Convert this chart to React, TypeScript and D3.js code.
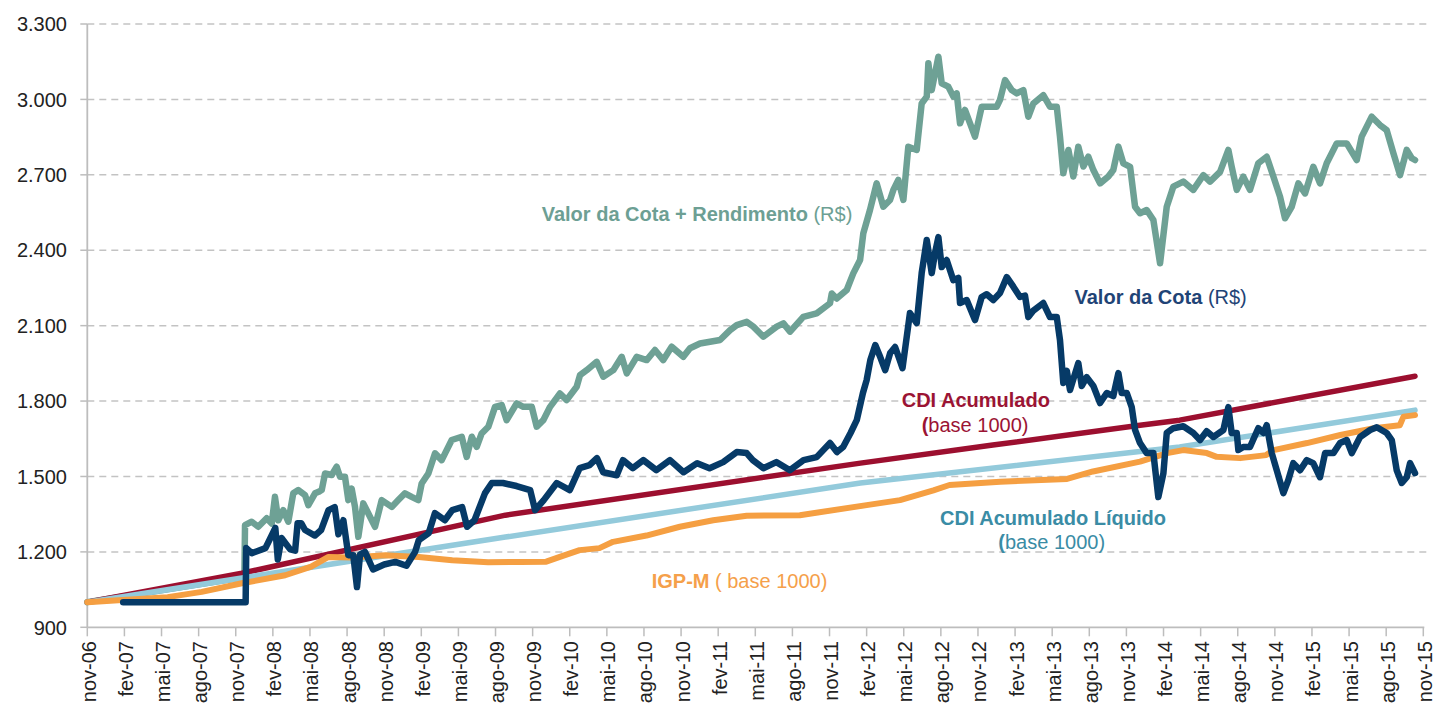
import React from "react";
import * as d3 from "d3";

// x positions are months elapsed since nov-06
const tickLabels = [
  "nov-06", "fev-07", "mai-07", "ago-07", "nov-07", "fev-08", "mai-08", "ago-08", "nov-08",
  "fev-09", "mai-09", "ago-09", "nov-09", "fev-10", "mai-10", "ago-10", "nov-10",
  "fev-11", "mai-11", "ago-11", "nov-11", "fev-12", "mai-12", "ago-12", "nov-12",
  "fev-13", "mai-13", "ago-13", "nov-13", "fev-14", "mai-14", "ago-14", "nov-14",
  "fev-15", "mai-15", "ago-15", "nov-15",
];
const yTicks = [900, 1200, 1500, 1800, 2100, 2400, 2700, 3000, 3300];

const cotaRendimento: [number, number][] = [
  [0, 1000], [12.7, 1100], [12.75, 1306], [13.29, 1320], [13.82, 1300], [14.5, 1334], [14.91, 1313],
  [15.17, 1419], [15.44, 1326], [15.84, 1366], [16.25, 1320], [16.65, 1433], [17.06, 1446], [17.6, 1426],
  [17.87, 1386], [18.41, 1433], [18.7, 1439], [18.95, 1446], [19.22, 1512], [19.76, 1506], [20.16, 1539],
  [20.43, 1499], [20.83, 1499], [21.1, 1406], [21.37, 1452], [21.64, 1379], [21.91, 1260], [22.31, 1393],
  [22.72, 1353], [23.26, 1300], [23.8, 1406], [24.61, 1379], [25.14, 1406], [25.68, 1433], [26.22, 1419],
  [26.76, 1406], [27.03, 1472], [27.57, 1512], [28.11, 1592], [28.65, 1565], [28.92, 1592], [29.46, 1645],
  [30.27, 1658], [30.67, 1578], [31.08, 1658], [31.48, 1618], [31.88, 1671], [32.42, 1698], [32.96, 1777],
  [33.5, 1784], [33.9, 1724], [34.71, 1791], [35.25, 1777], [35.93, 1777], [36.33, 1698], [36.86, 1724],
  [37.41, 1777], [38.21, 1830], [38.75, 1804], [39.56, 1857], [39.83, 1903], [40.37, 1923], [41.18, 1956],
  [41.71, 1897], [42.52, 1923], [43.2, 1976], [43.61, 1910], [44.41, 1976], [45.22, 1963], [45.89, 2003],
  [46.56, 1963], [47.24, 2016], [48.18, 1976], [48.72, 2010], [49.53, 2029], [50.34, 2036], [51.15, 2043],
  [51.96, 2082], [52.5, 2102], [53.31, 2115], [53.84, 2096], [54.65, 2056], [55.73, 2096], [56.27, 2109],
  [56.81, 2076], [57.88, 2135], [58.96, 2149], [60.04, 2189], [60.18, 2228], [60.58, 2208], [61.39, 2242],
  [61.92, 2308], [62.47, 2361], [62.73, 2467], [63.27, 2560], [63.81, 2666], [64.35, 2573], [64.89, 2600],
  [65.16, 2640], [65.56, 2680], [65.97, 2600], [66.37, 2812], [67.05, 2799], [67.45, 2984], [67.86, 3011],
  [67.99, 3144], [68.26, 3037], [68.53, 3104], [68.8, 3170], [69.07, 3064], [69.6, 3051], [70.01, 3011],
  [70.28, 3024], [70.55, 2905], [70.95, 2958], [71.36, 2905], [71.76, 2852], [72.3, 2971], [72.84, 2971],
  [73.52, 2971], [73.78, 2998], [74.19, 3077], [74.73, 3037], [75.13, 3024], [75.67, 3037], [76.07, 2931],
  [76.48, 2984], [77.28, 3017], [77.82, 2971], [78.37, 2971], [78.63, 2852], [78.9, 2706], [79.31, 2799],
  [79.71, 2693], [80.11, 2812], [80.52, 2733], [80.92, 2772], [81.33, 2719], [81.87, 2666], [82.54, 2693],
  [82.94, 2719], [83.35, 2812], [83.75, 2746], [84.3, 2732], [84.7, 2573], [85.1, 2547], [85.64, 2560],
  [86.18, 2520], [86.72, 2348], [87.26, 2573], [87.79, 2653], [88.6, 2673], [89.41, 2640], [90.22, 2699],
  [90.76, 2673], [91.57, 2712], [92.24, 2799], [92.51, 2733], [92.92, 2640], [93.45, 2693], [93.99, 2640],
  [94.66, 2746], [95.34, 2772], [95.88, 2693], [96.42, 2613], [96.82, 2527], [97.36, 2573], [97.9, 2666],
  [98.44, 2626], [99.11, 2732], [99.65, 2666], [100.19, 2746], [101.0, 2825], [101.81, 2825], [102.62, 2759],
  [103.02, 2852], [103.83, 2931], [104.5, 2898], [105.04, 2878], [105.58, 2786], [106.12, 2699],
  [106.66, 2799], [107.07, 2766], [107.33, 2759],
];

const valorCota: [number, number][] = [
  [2.9, 1000], [12.8, 1000], [12.85, 1215], [13.3, 1195], [14.4, 1215], [15.2, 1295], [15.4, 1170],
  [15.7, 1255], [16.4, 1210], [16.8, 1205], [17.0, 1314], [17.3, 1314], [17.6, 1287], [18.4, 1265],
  [18.9, 1287], [19.5, 1366], [20.0, 1378], [20.3, 1270], [20.7, 1326], [21.1, 1187], [21.5, 1187],
  [21.8, 1060], [22.05, 1190], [22.45, 1200], [23.1, 1130], [24.0, 1150], [24.9, 1160], [25.8, 1145],
  [26.5, 1200], [26.8, 1247], [27.6, 1275], [28.1, 1354], [28.9, 1326], [29.5, 1366], [30.3, 1378],
  [30.7, 1300], [31.3, 1326], [32.15, 1434], [32.7, 1474], [33.6, 1474], [34.7, 1462], [35.8, 1446],
  [36.2, 1366], [36.9, 1406], [37.95, 1474], [39.0, 1446], [39.8, 1533], [40.6, 1545], [41.2, 1573],
  [41.7, 1517], [42.8, 1505], [43.3, 1565], [44.1, 1533], [44.95, 1565], [46.0, 1525], [47.1, 1565],
  [48.2, 1517], [49.3, 1553], [50.3, 1533], [51.4, 1557], [52.5, 1597], [53.3, 1593], [53.8, 1565],
  [54.65, 1533], [55.7, 1557], [56.8, 1525], [57.9, 1565], [58.96, 1577], [60.04, 1633], [60.6, 1597],
  [61.1, 1617], [61.7, 1673], [62.2, 1724], [62.7, 1832], [63.0, 1883], [63.3, 1963], [63.7, 2023],
  [64.1, 1975], [64.5, 1923], [64.9, 1991], [65.3, 2015], [65.7, 1960], [65.9, 1931], [66.5, 2150],
  [67.05, 2110], [67.45, 2309], [67.86, 2441], [68.26, 2309], [68.53, 2389], [68.8, 2452], [69.07, 2333],
  [69.47, 2361], [70.01, 2281], [70.41, 2290], [70.55, 2190], [71.09, 2202], [71.76, 2122], [72.3, 2214],
  [72.71, 2225], [73.24, 2202], [73.78, 2230], [74.33, 2293], [74.86, 2255], [75.4, 2214], [75.8, 2220],
  [76.07, 2134], [76.48, 2160], [77.28, 2190], [77.82, 2134], [78.37, 2134], [78.63, 2043], [78.9, 1872],
  [79.18, 1920], [79.44, 1844], [80.11, 1951], [80.39, 1860], [80.79, 1895], [81.33, 1860], [81.87, 1792],
  [82.41, 1832], [82.94, 1820], [83.35, 1911], [83.62, 1832], [84.03, 1832], [84.43, 1776], [84.7, 1685],
  [85.1, 1633], [85.64, 1593], [86.18, 1593], [86.58, 1418], [86.99, 1513], [87.26, 1673], [87.79, 1692],
  [88.6, 1700], [89.41, 1673], [89.95, 1645], [90.49, 1680], [91.03, 1657], [91.84, 1685], [92.24, 1776],
  [92.51, 1673], [92.92, 1673], [93.05, 1605], [93.45, 1617], [93.99, 1617], [94.66, 1692], [95.07, 1673],
  [95.34, 1704], [95.75, 1593], [96.15, 1525], [96.69, 1434], [97.09, 1486], [97.49, 1553], [98.04, 1525],
  [98.58, 1565], [99.1, 1553], [99.65, 1497], [100.06, 1593], [100.73, 1593], [101.27, 1633],
  [101.81, 1645], [102.22, 1593], [102.89, 1657], [103.7, 1685], [104.24, 1696], [105.04, 1673],
  [105.45, 1645], [105.85, 1525], [106.26, 1474], [106.66, 1497], [106.93, 1553], [107.33, 1513],
];

const cdiAcumulado: [number, number][] = [
  [0, 1000], [12.5, 1115], [33.8, 1346], [62.5, 1553], [73.2, 1625], [85.1, 1704], [88.3, 1724], [107.33, 1899],
];

const cdiLiquido: [number, number][] = [
  [0, 1000], [12.5, 1096], [33.8, 1259], [62.5, 1474], [88.3, 1617], [107.33, 1764],
];

const igpm: [number, number][] = [
  [0, 1000], [2.5, 1008], [6.5, 1020], [9.25, 1041], [12.5, 1075], [16.0, 1107], [18.1, 1141], [19.5, 1180],
  [21.4, 1178], [24.1, 1187], [26.8, 1180], [29.5, 1167], [32.4, 1159], [35.0, 1160], [37.1, 1161],
  [38.2, 1180], [39.8, 1207], [41.4, 1215], [42.5, 1240], [45.2, 1265], [47.9, 1300], [50.6, 1326],
  [53.3, 1344], [57.6, 1346], [63.0, 1386], [65.7, 1406], [68.4, 1445], [69.7, 1466], [73.8, 1479],
  [79.2, 1490], [81.3, 1520], [85.1, 1559], [87.3, 1593], [88.6, 1605], [90.5, 1593], [91.3, 1578],
  [93.2, 1573], [95.3, 1585], [95.9, 1605], [98.6, 1633], [101.3, 1665], [104.0, 1692], [106.1, 1704],
  [106.4, 1738], [107.33, 1744],
];

const FONT = "'Liberation Sans', Arial, Helvetica, sans-serif";

export default function App() {
  const W = 1435;
  const H = 709;
  const x = d3.scaleLinear().domain([0, 108]).range([87.3, 1423.3]);
  const y = d3.scaleLinear().domain([900, 3300]).range([627.3, 24]);
  const line = d3
    .line<[number, number]>()
    .x((d) => x(d[0]))
    .y((d) => y(d[1]));
  const fmt = d3
    .formatLocale({ decimal: ",", thousands: ".", grouping: [3], currency: ["R$", ""] })
    .format(",d");

  const series = [
    { data: cotaRendimento, color: "#6ea195", w: 6.5 },
    { data: cdiAcumulado, color: "#9c0f2f", w: 5.5 },
    { data: cdiLiquido, color: "#93cadb", w: 5.5 },
    { data: igpm, color: "#f59f42", w: 6 },
    { data: valorCota, color: "#063a67", w: 6.5 },
  ];

  const x0 = x(0);
  const x1 = 1430;
  const yBase = y(900);

  return (
    <svg
      width={W}
      height={H}
      style={{ position: "absolute", left: 0, top: 0, background: "#fff" }}
      fontFamily={FONT}
    >
      <rect width={W} height={H} fill="#fff" />
      {yTicks.slice(1).map((t) => (
        <line
          key={"g" + t}
          x1={x0}
          x2={x1}
          y1={y(t)}
          y2={y(t)}
          stroke="#c3c3c3"
          strokeWidth={1.5}
          strokeDasharray="7,5"
        />
      ))}
      <line x1={x0} x2={x0} y1={y(3300)} y2={yBase} stroke="#bdbdbd" strokeWidth={1.8} />
      {yTicks.map((t) => (
        <g key={"y" + t}>
          <line x1={x0 - 7} x2={x0} y1={y(t)} y2={y(t)} stroke="#bdbdbd" strokeWidth={1.5} />
          <text x={67} y={y(t)} dy="0.36em" textAnchor="end" fontSize={20} fill="#222">
            {fmt(t)}
          </text>
        </g>
      ))}
      <line x1={x0} x2={x(108) + 1} y1={yBase} y2={yBase} stroke="#bdbdbd" strokeWidth={1.8} />
      {tickLabels.map((lab, i) => {
        const tx = x(i * 3);
        return (
          <g key={"x" + i}>
            <line x1={tx} x2={tx} y1={yBase} y2={yBase + 9} stroke="#bdbdbd" strokeWidth={1.5} />
            <text
              transform={`translate(${tx + 8.5},641) rotate(-90)`}
              textAnchor="end"
              fontSize={20}
              fill="#222"
            >
              {lab}
            </text>
          </g>
        );
      })}
      {series.map((s, i) => (
        <path
          key={"s" + i}
          d={line(s.data) || ""}
          fill="none"
          stroke={s.color}
          strokeWidth={s.w}
          strokeLinejoin="round"
          strokeLinecap="round"
        />
      ))}
      <text x={541.7} y={221} fontSize={20} fill="#6d9f94">
        <tspan fontWeight="bold">Valor da Cota + Rendimento </tspan>
        <tspan>(R$)</tspan>
      </text>
      <text x={1074.5} y={303.5} fontSize={20} fill="#1f4476">
        <tspan fontWeight="bold">Valor da Cota </tspan>
        <tspan>(R$)</tspan>
      </text>
      <text x={901.7} y={406.5} fontSize={20} fill="#9b1434" fontWeight="bold">
        CDI Acumulado
      </text>
      <text x={921.7} y={431.5} fontSize={20} fill="#9b1434">
        <tspan fontWeight="bold">(</tspan>
        <tspan>base 1000)</tspan>
      </text>
      <text x={940} y={525} fontSize={20} fill="#3a8ca5" fontWeight="bold">
        CDI Acumulado Líquido
      </text>
      <text x={998.3} y={549} fontSize={20} fill="#3a8ca5">
        <tspan fontWeight="bold">(</tspan>
        <tspan>base 1000)</tspan>
      </text>
      <text x={651.7} y={587.5} fontSize={20} fill="#f5a04a">
        <tspan fontWeight="bold">IGP-M</tspan>
        <tspan> ( base 1000)</tspan>
      </text>
    </svg>
  );
}
